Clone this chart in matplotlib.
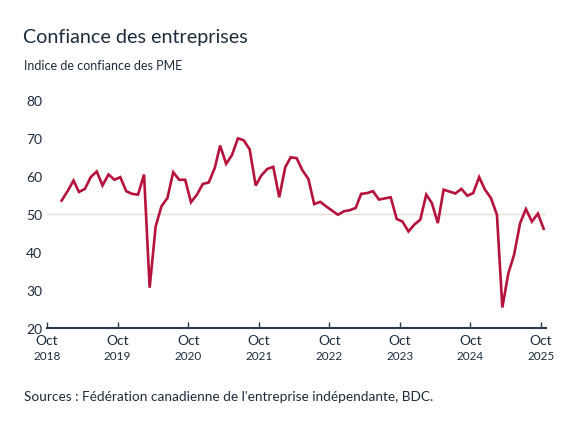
import numpy as np
import pandas as pd
import matplotlib
matplotlib.use("Agg")
import matplotlib.pyplot as plt
import matplotlib.transforms as mtransforms

plt.rcParams["font.family"] = ["Lato", "DejaVu Sans"]

# Indice de confiance des PME (12 mois), mensuel, dec 2018 -> oct 2025
values = [
    53.5, 56.0, 58.8, 55.8, 56.6, 59.7, 61.2, 57.5, 60.4, 59.0,   # dec18 - sep19
    59.7, 56.0, 55.3, 55.1, 60.4, 30.6, 46.7, 52.0, 54.2, 61.0,   # oct19 - jul20
    59.0, 59.0, 53.1, 55.1, 57.9, 58.3, 62.1, 68.0, 63.2, 65.5,   # aug20 - may21
    69.9, 69.4, 67.0, 57.5, 60.2, 61.9, 62.4, 54.4, 62.3, 64.9,   # jun21 - mar22
    64.7, 61.5, 59.2, 52.6, 53.2, 52.0, 50.9, 49.8, 50.7, 51.0,   # apr22 - jan23
    51.6, 55.3, 55.5, 56.0, 53.8, 54.1, 54.4, 48.7, 48.0, 45.4,   # feb23 - nov23
    47.2, 48.5, 55.1, 52.9, 47.6, 56.4, 55.9, 55.4, 56.6, 54.8,   # dec23 - sep24
    55.5, 59.7, 56.4, 54.2, 49.8, 25.4, 34.4, 39.3, 47.6, 51.3,   # oct24 - jul25
    48.0, 50.1, 46.1,                                             # aug25 - oct25
]
dates = pd.date_range("2018-12-01", periods=len(values), freq="MS") + pd.Timedelta(days=14)

tick_dates = pd.date_range("2018-10-01", "2025-10-01", freq="12MS")
tick_months = ["Oct"] * len(tick_dates)
tick_years = [str(d.year) for d in tick_dates]
y_ticks = [20, 30, 40, 50, 60, 70, 80]

text_color = "#1d2c3b"
axis_color = "#2b3a4a"
line_color = "#b5123c"
ref_color = "#e8dcd3"

fig = plt.figure(figsize=(5.75, 4.31), dpi=100)
ax = fig.add_axes([46.5 / 575, 1 - 329 / 431, (546 - 46.5) / 575, 228 / 431])

ax.axhline(50, color=ref_color, lw=1.0, zorder=1)
ax.plot(dates, values, color=line_color, lw=1.9, solid_joinstyle="miter", zorder=3)

ax.set_ylim(20, 80)
ax.set_xlim(pd.Timestamp("2018-09-28"), pd.Timestamp("2025-10-27"))

for s in ["top", "right", "left"]:
    ax.spines[s].set_visible(False)
ax.spines["bottom"].set_color(axis_color)
ax.spines["bottom"].set_linewidth(1.5)

ax.set_yticks(y_ticks)
ax.set_yticklabels([str(v) for v in y_ticks], fontsize=10, color=text_color)
ax.tick_params(axis="y", length=0, pad=3)

ax.set_xticks(tick_dates)
ax.set_xticklabels(tick_months, fontsize=10, color=text_color)
ax.tick_params(axis="x", direction="in", length=4, width=1, color=axis_color, pad=4)

trans = mtransforms.blended_transform_factory(ax.transData, fig.transFigure)
for d, yr in zip(tick_dates, tick_years):
    ax.text(d, 1 - 357 / 431, yr, transform=trans, ha="center", va="center",
            fontsize=8.5, color=text_color)

fig.text(23 / 575, 1 - 37 / 431, "Confiance des entreprises", fontsize=14.2,
         color=text_color, va="center", ha="left")
fig.text(24 / 575, 1 - 66 / 431, "Indice de confiance des PME", fontsize=9.0,
         color=text_color, va="center", ha="left")
fig.text(24 / 575, 1 - 397 / 431,
         "Sources : Fédération canadienne de l'entreprise indépendante, BDC.",
         fontsize=9.85, color=text_color, va="center", ha="left")

fig.savefig("out.png", dpi=100)
